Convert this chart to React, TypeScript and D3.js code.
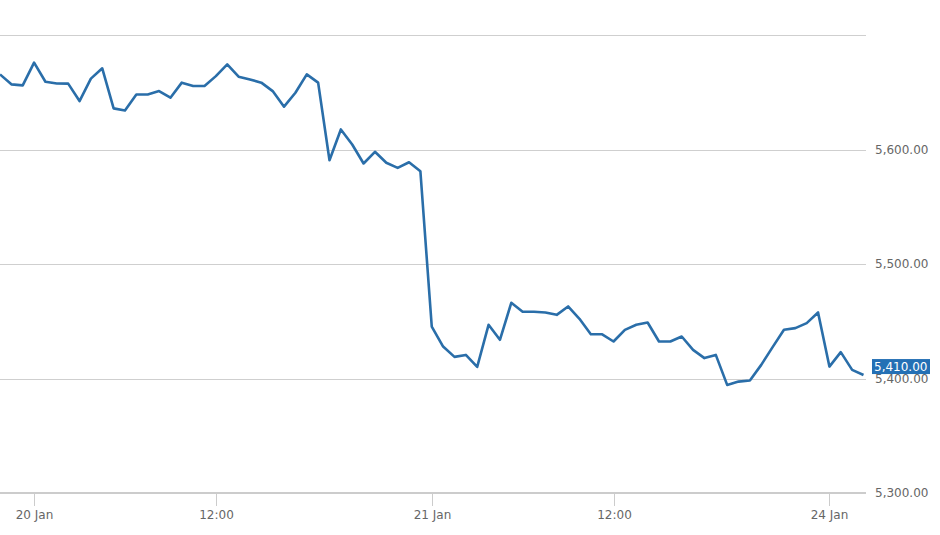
import React, { useEffect, useRef } from 'react';
import * as d3 from 'd3';

// trading session days and 15 minute slots (08:00 - 16:30)
const sessionDays = ['17 Jan', '20 Jan', '21 Jan', '24 Jan'];
const sessionSlots = [
  '08:00', '08:15', '08:30', '08:45', '09:00', '09:15', '09:30', '09:45',
  '10:00', '10:15', '10:30', '10:45', '11:00', '11:15', '11:30', '11:45',
  '12:00', '12:15', '12:30', '12:45', '13:00', '13:15', '13:30', '13:45',
  '14:00', '14:15', '14:30', '14:45', '15:00', '15:15', '15:30', '15:45',
  '16:00', '16:15', '16:30',
];

// index level, 17 Jan 15:45 -> 24 Jan 08:45
const prices = [
  5665.6, 5656.9, 5656.0,
  // 20 Jan
  5675.9, 5659.2, 5657.7, 5657.5, 5642.3, 5661.9, 5670.9, 5635.9, 5634.1, 5648.1,
  5648.1, 5651.0, 5645.2, 5658.4, 5655.4, 5655.4, 5664.1, 5674.4, 5663.6, 5661.2,
  5658.4, 5651.0, 5637.4, 5649.6, 5665.6, 5658.4, 5590.6, 5617.5, 5604.4, 5587.8,
  5598.0, 5588.4, 5584.0, 5588.9, 5581.0,
  // 21 Jan
  5445.4, 5427.9, 5418.9, 5420.6, 5410.1, 5446.9, 5433.8, 5466.1, 5458.3, 5458.3,
  5457.7, 5455.6, 5462.9, 5452.1, 5438.6, 5438.6, 5432.3, 5442.5, 5446.9, 5448.9,
  5432.3, 5432.3, 5436.7, 5425.0, 5417.8, 5420.6, 5394.4, 5397.3, 5398.2, 5411.9,
  5427.4, 5442.5, 5444.0, 5448.4, 5457.7,
  // 24 Jan
  5410.4, 5423.0, 5407.5, 5403.1,
];

const lastPrice = 5410;
const gridValues = [5300, 5400, 5500, 5600, 5700];
const yTickLabels = [5300, 5400, 5500, 5600];
const xTicks = [
  { label: '20 Jan', at: '20 Jan 08:00' },
  { label: '12:00', at: '20 Jan 12:00' },
  { label: '21 Jan', at: '21 Jan 08:00' },
  { label: '12:00', at: '21 Jan 12:00' },
  { label: '24 Jan', at: '24 Jan 08:00' },
];

const allTimes = sessionDays.flatMap((d) => sessionSlots.map((s) => `${d} ${s}`));
const firstIdx = allTimes.indexOf('17 Jan 16:00');
const times = allTimes.slice(firstIdx, firstIdx + prices.length);

const fmt = d3.format(',.2f');

const PriceChart: React.FC = () => {
  const ref = useRef<SVGSVGElement>(null);

  useEffect(() => {
    if (!ref.current) return;
    const svg = d3.select(ref.current);
    svg.selectAll('*').remove();

    const plotRight = 866;
    const axisY = 493;

    const x = d3.scalePoint<string>().domain(times).range([0, 863.5]).padding(0);
    const y = d3.scaleLinear().domain([5300, 5700]).range([axisY, 35]);

    svg
      .append('defs')
      .append('clipPath')
      .attr('id', 'plot-clip')
      .append('rect')
      .attr('x', 0)
      .attr('y', 0)
      .attr('width', plotRight)
      .attr('height', 535);

    // grid lines
    svg
      .append('g')
      .selectAll('line')
      .data(gridValues.filter((v) => v !== 5300))
      .enter()
      .append('line')
      .attr('x1', 0)
      .attr('x2', plotRight)
      .attr('y1', (d) => Math.round(y(d)) + 0.5)
      .attr('y2', (d) => Math.round(y(d)) + 0.5)
      .attr('stroke', '#cfcfcf')
      .attr('stroke-width', 1);

    // x axis
    const xAxis = svg.append('g').attr('transform', `translate(0, ${axisY})`);
    xAxis
      .append('line')
      .attr('x1', 0)
      .attr('x2', plotRight)
      .attr('stroke', '#cccccc')
      .attr('stroke-width', 2);
    const tick = xAxis
      .selectAll('.tick')
      .data(xTicks)
      .enter()
      .append('g')
      .attr('class', 'tick')
      .attr('transform', (d) => `translate(${Math.round(x(d.at)!) + 0.5}, 0)`);
    tick.append('line').attr('y1', 1).attr('y2', 13).attr('stroke', '#cccccc');
    tick
      .append('text')
      .text((d) => d.label)
      .attr('y', 26)
      .attr('text-anchor', 'middle')
      .style('font', '12px "DejaVu Sans", sans-serif')
      .style('fill', '#666');

    // y labels
    svg
      .append('g')
      .selectAll('text')
      .data(yTickLabels)
      .enter()
      .append('text')
      .text((d) => fmt(d))
      .attr('x', 875)
      .attr('y', (d) => y(d))
      .attr('dy', '0.35em')
      .style('font', '12px "DejaVu Sans", sans-serif')
      .style('fill', '#666');

    // price line
    const line = d3
      .line<number>()
      .x((_, i) => x(times[i])!)
      .y((d) => y(d));
    svg
      .append('path')
      .datum(prices)
      .attr('clip-path', 'url(#plot-clip)')
      .attr('d', line)
      .attr('fill', 'none')
      .attr('stroke', '#2a6ea9')
      .attr('stroke-width', 2.6)
      .attr('stroke-linejoin', 'round');

    // last price badge
    const badge = svg.append('g').attr('transform', `translate(872, ${y(lastPrice)})`);
    badge
      .append('rect')
      .attr('x', 0)
      .attr('y', -8)
      .attr('width', 58)
      .attr('height', 15)
      .attr('fill', '#2470b5');
    badge
      .append('text')
      .text(fmt(lastPrice))
      .attr('x', 2)
      .attr('y', 0)
      .attr('dy', '0.33em')
      .style('font', '12px "DejaVu Sans", sans-serif')
      .style('fill', '#fff');
  }, []);

  return <svg ref={ref} width={940} height={535} style={{ position: 'absolute', left: 0, top: 0 }} />;
};

export default function App() {
  return <PriceChart />;
}
